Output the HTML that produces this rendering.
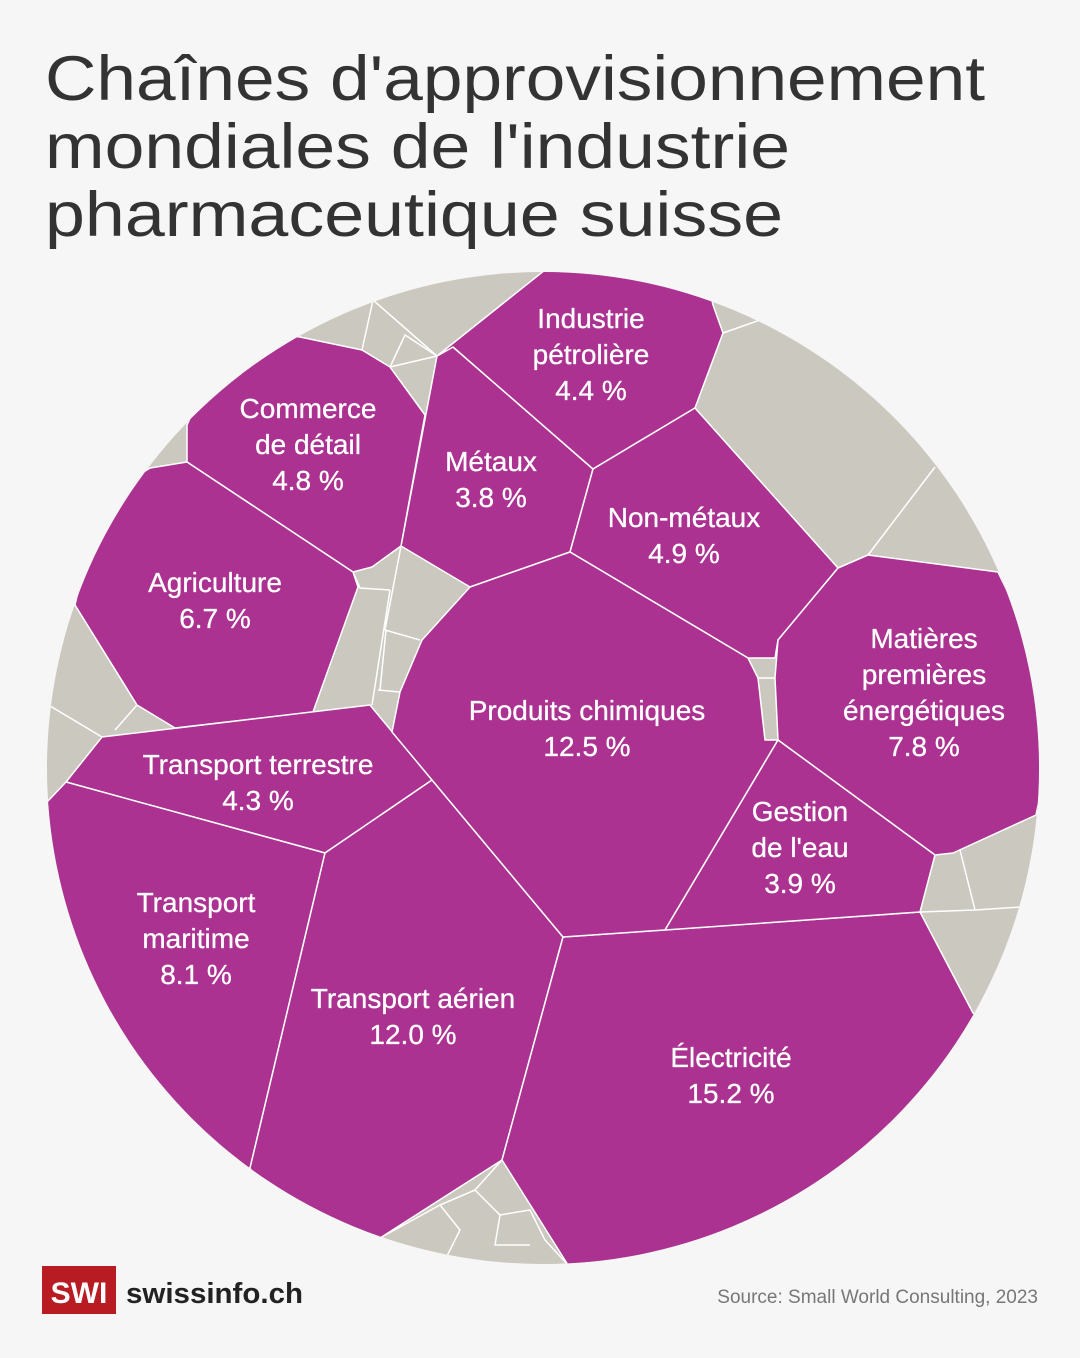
<!DOCTYPE html>
<html><head><meta charset="utf-8"><style>
html,body{margin:0;padding:0;background:#f6f6f6;}
svg{display:block;}
.t{font-family:"Liberation Sans",sans-serif;font-size:63px;fill:#333;}
.l{font-family:"Liberation Sans",sans-serif;font-size:28px;fill:#fff;text-anchor:middle;stroke:#fff;stroke-width:0.3px;}
</style></head><body>
<svg width="1080" height="1358" viewBox="0 0 1080 1358" xmlns="http://www.w3.org/2000/svg">
<rect width="1080" height="1358" fill="#f6f6f6"/>
<text class="t" x="45" y="100" textLength="940" lengthAdjust="spacingAndGlyphs">Chaînes d'approvisionnement</text>
<text class="t" x="45" y="168" textLength="745" lengthAdjust="spacingAndGlyphs">mondiales de l'industrie</text>
<text class="t" x="45" y="236" textLength="738" lengthAdjust="spacingAndGlyphs">pharmaceutique suisse</text>
<defs><clipPath id="c"><circle cx="543" cy="768" r="496"/></clipPath></defs>
<circle cx="543" cy="768" r="496" fill="#cbc8bf"/>
<g clip-path="url(#c)" stroke="#fff" stroke-width="1.5" stroke-linejoin="round">
<g fill="none">
<path d="M437,356 L373,300 M373,300 L362,350 M390,367 L405,335 L437,356 M390,367 L437,356"/>
<path d="M723,333 L760,320 M838,568 L868,555 L935,467 M935,855 L960,850 L975,910 L1050,905 M920,912 L975,910"/>
<path d="M150,470 L187,462 M75,605 L137,705 M102,737 L40,700 M115,730 L137,705 L175,727"/>
<path d="M380,1238 L440,1205 L475,1190 L502,1160 M440,1205 L460,1230 L445,1260 M475,1190 L500,1215 L530,1210 L545,1240 L568,1265 M500,1215 L495,1245 L530,1245 M530,1210 L545,1240"/>
<path d="M353,572 L360,588 L390,590 M390,590 L372,705 M401,546 L385,630 L420,640 M400,692 L378,690 M386,630 L380,690"/>
<path d="M748,658 L778,640 M758,678 L778,678"/>
</g>
<g fill="#ab3290">
<polygon points="437,356 453,347 593,469 570,552 470,587 401,546"/>
<polygon points="453,347 437,356 560,258 705,270 713,305 723,333 695,408 593,469"/>
<polygon points="593,469 695,408 838,568 778,640 775,658 748,658 570,552"/>
<polygon points="300,337 362,350 390,367 425,415 401,546 372,567 353,572 187,462 187,425 230,330"/>
<polygon points="187,462 353,572 358,587 313,712 175,728 137,705 75,605 100,500 150,468"/>
<polygon points="102,737 370,705 432,780 325,853 66,782"/>
<polygon points="30,820 66,782 325,853 250,1168 100,1150 20,900"/>
<polygon points="325,853 432,780 563,937 502,1160 380,1238 300,1260 250,1168"/>
<polygon points="563,937 920,912 973,1013 1060,1080 800,1300 568,1265 502,1160"/>
<polygon points="470,587 570,552 748,658 758,678 765,740 778,740 665,930 563,937 392,732 400,692 422,640"/>
<polygon points="838,568 868,555 998,572 1060,700 1036,815 953,853 935,855 778,740 775,678 778,640"/>
<polygon points="778,740 935,855 920,912 665,930"/>
</g>
</g>
<g class="lbls">
<text class="l" x="591" y="328">Industrie</text><text class="l" x="591" y="364">pétrolière</text><text class="l" x="591" y="400">4.4 %</text>
<text class="l" x="308" y="418">Commerce</text><text class="l" x="308" y="454">de détail</text><text class="l" x="308" y="490">4.8 %</text>
<text class="l" x="491" y="471">Métaux</text><text class="l" x="491" y="507">3.8 %</text>
<text class="l" x="684" y="527">Non-métaux</text><text class="l" x="684" y="563">4.9 %</text>
<text class="l" x="215" y="592">Agriculture</text><text class="l" x="215" y="628">6.7 %</text>
<text class="l" x="924" y="648">Matières</text><text class="l" x="924" y="684">premières</text><text class="l" x="924" y="720">énergétiques</text><text class="l" x="924" y="756">7.8 %</text>
<text class="l" x="587" y="720">Produits chimiques</text><text class="l" x="587" y="756">12.5 %</text>
<text class="l" x="258" y="774">Transport terrestre</text><text class="l" x="258" y="810">4.3 %</text>
<text class="l" x="800" y="821">Gestion</text><text class="l" x="800" y="857">de l'eau</text><text class="l" x="800" y="893">3.9 %</text>
<text class="l" x="196" y="912">Transport</text><text class="l" x="196" y="948">maritime</text><text class="l" x="196" y="984">8.1 %</text>
<text class="l" x="413" y="1008">Transport aérien</text><text class="l" x="413" y="1044">12.0 %</text>
<text class="l" x="731" y="1067">Électricité</text><text class="l" x="731" y="1103">15.2 %</text>
</g>
<rect x="42" y="1266" width="74" height="48" fill="#b81c22"/>
<text x="79" y="1303" font-family="Liberation Sans,sans-serif" font-weight="bold" font-size="30" fill="#fff" text-anchor="middle">SWI</text>
<text x="126" y="1303" font-family="Liberation Sans,sans-serif" font-weight="bold" font-size="29" fill="#222" textLength="177" lengthAdjust="spacingAndGlyphs">swissinfo.ch</text>
<text x="1038" y="1303" font-family="Liberation Sans,sans-serif" font-size="19" fill="#777" text-anchor="end">Source: Small World Consulting, 2023</text>
</svg>
</body></html>
